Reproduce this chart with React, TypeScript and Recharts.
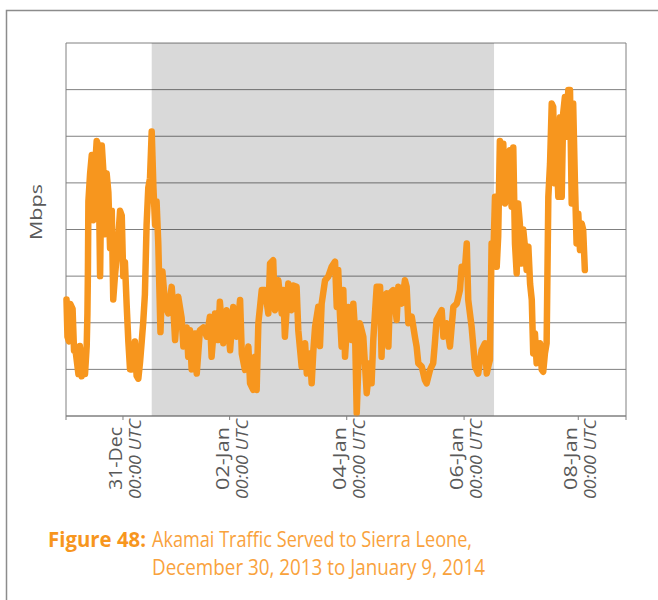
import React from "react";
import {
  CartesianGrid,
  Line,
  LineChart,
  ReferenceArea,
  ReferenceLine,
  XAxis,
  YAxis,
} from "recharts";

// hours since 30-Dec 00:00 UTC
const hours = [
  1.2, 1.6, 2.2, 2.8, 3.7, 4.3, 4.7, 5.4, 6.1, 6.7, 7.4, 8.1, 8.8, 9.5, 9.8, 10.0,
  10.2, 10.9, 11.6, 12.2, 12.9, 13.6, 14.3, 15.0, 15.7, 16.3, 17.0, 17.7, 18.4, 19.1,
  19.8, 20.4, 21.1, 21.8, 22.5, 23.2, 23.9, 24.5, 25.2, 25.9, 26.6, 27.3, 28.0, 28.6,
  29.3, 30.0, 30.7, 31.4, 32.1, 32.7, 33.4, 34.1, 34.8, 35.5, 36.2, 36.9, 37.6, 38.2,
  38.9, 39.8, 40.6, 41.7, 43.0, 44.4, 45.1, 45.8, 47.1, 48.5, 49.2, 50.6, 51.2, 51.9,
  52.6, 54.0, 54.7, 56.0, 57.4, 58.8, 60.1, 60.8, 62.2, 63.5, 64.2, 65.6, 67.0, 68.4,
  69.7, 71.1, 72.5, 73.2, 74.5, 75.9, 76.6, 77.9, 78.6, 79.3, 80.0, 81.4, 82.7, 84.1,
  84.8, 86.1, 86.8, 88.2, 89.6, 90.2, 90.9, 92.3, 93.7, 94.3, 95.7, 96.4, 97.8, 99.2,
  99.9, 101.2, 101.9, 102.6, 103.3, 104.6, 105.3, 106.0, 107.4, 108.7, 110.1, 111.5,
  112.2, 112.8, 113.5, 114.2, 114.9, 115.6, 116.9, 118.3, 119.0, 119.7, 120.4, 121.0,
  121.7, 123.1, 124.5, 125.8, 126.5, 127.2, 128.6, 130.0, 130.6, 131.3, 132.7, 133.4,
  134.1, 135.4, 136.8, 137.5, 138.9, 140.2, 140.9, 141.6, 143.0, 144.3, 145.0, 145.7,
  147.1, 148.4, 149.1, 150.5, 151.8, 152.5, 153.2, 154.6, 155.3, 156.0, 157.3, 158.7,
  160.1, 161.5, 162.8, 163.5, 164.9, 165.6, 166.2, 167.6, 169.0, 170.3, 171.7, 173.1,
  173.8, 174.4, 175.1, 175.8, 176.5, 177.2, 177.9, 178.5, 179.2, 179.9, 180.6, 181.3,
  182.0, 182.6, 183.3, 184.0, 184.7, 185.4, 186.1, 186.7, 187.4, 188.1, 188.8, 189.5,
  190.2, 190.9, 191.6, 192.3, 192.9, 193.6, 194.3, 195.7, 196.4, 197.0, 197.7, 198.4,
  199.1, 199.8, 200.5, 201.1, 201.8, 202.5, 203.2, 203.9, 204.6, 205.2, 205.9, 206.6,
  207.3, 208.0, 208.7, 209.3, 210.0, 210.7, 211.4, 212.1, 212.8, 213.4, 214.1,
];

// traffic in grid units (no values printed on the y axis)
const mbps = [
  2.5, 1.7, 1.6, 2.4, 2.3, 1.4, 1.5, 1.2, 0.9, 1.5, 0.85, 1.4, 0.9, 1.5, 2.2, 3.1,
  4.6, 5.2, 5.6, 4.2, 5.3, 5.9, 5.8, 3.0, 5.8, 5.3, 3.9, 5.2, 4.8, 3.6,
  4.4, 2.5, 3.0, 3.4, 3.85, 4.4, 4.3, 3.0, 3.3, 2.4, 1.6, 1.0, 1.0, 1.3,
  1.6, 0.86, 0.8, 1.15, 1.6, 2.0, 2.6, 4.1, 4.9, 5.1, 6.1, 4.9, 4.1, 4.6,
  3.7, 1.8, 3.1, 2.4, 2.2, 2.77, 2.3, 1.63, 2.56, 2.1, 1.49, 1.9, 1.27, 1.84,
  1.0, 1.77, 0.91, 1.84, 1.9, 1.7, 2.13, 1.27, 2.2, 1.63, 2.45, 1.56, 2.27, 1.41,
  2.34, 1.7, 2.49, 1.34, 0.99, 1.49, 0.7, 0.56, 1.27, 0.56, 1.99, 2.7, 2.7, 2.2,
  3.27, 3.34, 2.27, 2.91, 2.2, 2.7, 1.7, 2.84, 2.27, 2.8, 2.77, 1.84, 1.06, 1.56,
  0.91, 1.34, 0.7, 1.41, 1.91, 2.34, 1.5, 2.41, 2.91, 2.99, 3.2, 3.31,
  2.34, 3.13, 2.2, 1.49, 2.7, 1.27, 2.34, 1.63, 2.41, 1.84, 0.06, 0.99,
  1.99, 1.7, 0.49, 1.13, 0.7, 1.63, 2.77, 2.77, 1.27, 2.56, 2.63, 1.49,
  2.63, 2.7, 2.06, 2.77, 2.41, 2.91, 2.77, 1.99, 2.13, 1.7, 1.49, 1.13,
  1.06, 0.77, 0.7, 0.99, 1.13, 1.56, 2.06, 2.2, 2.27, 1.7, 1.99, 1.49,
  2.34, 2.41, 2.7, 3.2, 3.2, 3.7, 2.49, 1.91, 1.06, 0.91, 1.41, 1.56,
  0.91, 1.06, 1.2, 3.7, 3.4, 4.7, 3.2, 3.84, 5.9, 4.7, 5.84, 4.56,
  5.63, 4.7, 5.7, 4.49, 5.76, 3.7, 3.06, 4.56, 4.13, 3.27, 4.0, 3.63,
  3.13, 3.63, 2.84, 2.49, 1.34, 1.77, 1.13, 1.56, 0.99, 0.95, 1.34, 1.56,
  4.7, 5.41, 6.7, 6.63, 4.99, 5.7, 4.7, 6.41, 4.7, 6.49, 6.84, 5.99,
  6.99, 6.99, 4.56, 6.7, 5.06, 3.7, 4.34, 3.56, 4.13, 4.0, 3.13,
];

const tickHours = [24.4, 68.2, 116.3, 164.5, 211.4];
const tickLabels = ["31-Dec", "02-Jan", "04-Jan", "06-Jan", "08-Jan"];
const tickTime = "00:00 UTC";
const gridValues = [0, 1, 2, 3, 4, 5, 6, 7, 8];
const xDomain = [1, 231];
const shadedFrom = 36.2;
const shadedTo = 176.8;

const data = hours.map((h, i) => ({ h, v: mbps[i] }));

const ORANGE = "#F7961E";
const AXIS = "#808080";
const LABEL = "#595959";

function DateTick(props: any) {
  const { x, y, payload } = props;
  const idx = tickHours.indexOf(payload.value);
  if (idx < 0) return null;
  return (
    <g transform={`translate(${x},${y})`}>
      <text
        transform="rotate(-90)"
        x={-5}
        y={-1}
        textAnchor="end"
        fontSize={19}
        fill={LABEL}
        textLength={63}
        lengthAdjust="spacingAndGlyphs"
      >
        {tickLabels[idx]}
      </text>
      <text
        transform="rotate(-90)"
        x={3}
        y={18}
        textAnchor="end"
        fontSize={16}
        fontStyle="italic"
        fill={LABEL}
        textLength={80}
        lengthAdjust="spacingAndGlyphs"
      >
        {tickTime}
      </text>
    </g>
  );
}

export default function App() {
  return (
    <div
      style={{
        position: "absolute",
        left: 0,
        top: 0,
        width: 658,
        height: 600,
        background: "#fff",
        overflow: "hidden",
        fontFamily: '"Open Sans", sans-serif',
      }}
    >
      <svg
        width={658}
        height={600}
        style={{ position: "absolute", left: 0, top: 0 }}
      >
        <path d="M6.5 600 V10.5 H658" stroke="#8c8c8c" strokeWidth={1.5} fill="none" />
        <text
          transform="translate(42,212) rotate(-90)"
          textAnchor="middle"
          fontSize={17}
          fill={LABEL}
          textLength={56}
          lengthAdjust="spacingAndGlyphs"
        >
          Mbps
        </text>
        <text
          x={48}
          y={547}
          fontSize={22}
          fontWeight={700}
          fill={ORANGE}
          textLength={98}
          lengthAdjust="spacingAndGlyphs"
        >
          Figure 48:
        </text>
        <text
          x={152}
          y={547}
          fontSize={22}
          fill="#F9A23C"
          textLength={320}
          lengthAdjust="spacingAndGlyphs"
        >
          Akamai Traffic Served to Sierra Leone,
        </text>
        <text
          x={152}
          y={575}
          fontSize={22}
          fill="#F9A23C"
          textLength={333}
          lengthAdjust="spacingAndGlyphs"
        >
          December 30, 2013 to January 9, 2014
        </text>
      </svg>
      <div style={{ position: "absolute", left: 0, top: 0 }}>
        <LineChart
          width={658}
          height={600}
          data={data}
          margin={{ top: 43, right: 32, bottom: 94, left: 66 }}
        >
          <CartesianGrid stroke={AXIS} vertical={false} />
          <ReferenceArea
            x1={shadedFrom}
            x2={shadedTo}
            fill="#000"
            fillOpacity={0.15}
            stroke="none"
          />
          <XAxis
            type="number"
            dataKey="h"
            domain={xDomain}
            ticks={[xDomain[0], ...tickHours, xDomain[1]]}
            interval={0}
            height={90}
            axisLine={{ stroke: AXIS }}
            tickLine={{ stroke: AXIS }}
            tickSize={4}
            tick={<DateTick />}
          />
          <YAxis hide domain={[0, 8]} ticks={gridValues} />
          <ReferenceLine x={xDomain[0]} stroke={AXIS} />
          <ReferenceLine x={xDomain[1]} stroke={AXIS} />
          <Line
            type="linear"
            dataKey="v"
            stroke={ORANGE}
            strokeWidth={6.5}
            strokeLinejoin="round"
            strokeLinecap="round"
            dot={false}
            isAnimationActive={false}
          />
        </LineChart>
      </div>
    </div>
  );
}
